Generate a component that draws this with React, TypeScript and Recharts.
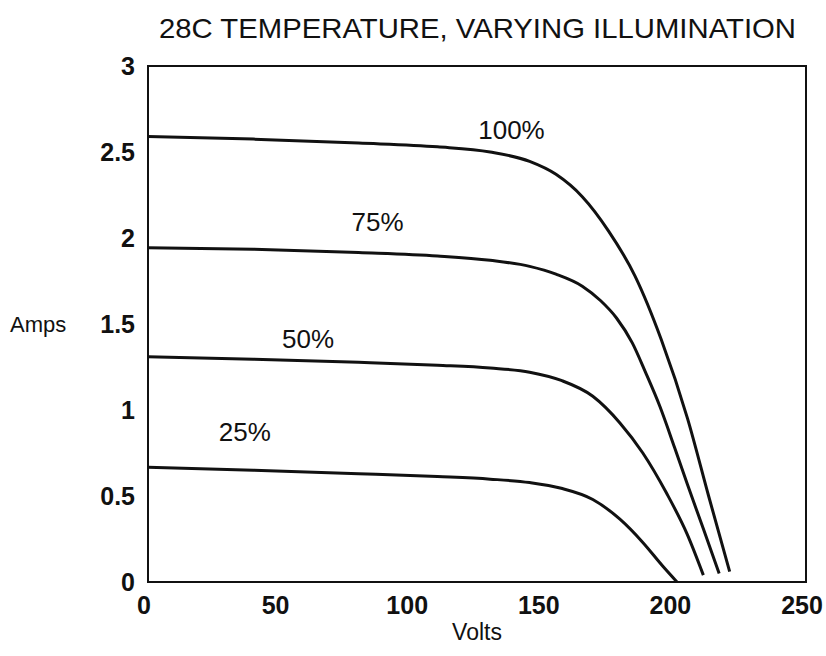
import { LineChart, Line, XAxis, YAxis, ReferenceArea, ReferenceDot } from 'recharts';

// volts / amps
const volts100 = [0, 40, 80, 110, 130, 145, 155, 165, 175, 185, 195, 205, 213, 221];
const amps100 = [2.59, 2.575, 2.552, 2.53, 2.5, 2.445, 2.37, 2.24, 2.04, 1.78, 1.41, 0.95, 0.5, 0.06];

const volts75 = [0, 40, 80, 110, 130, 145, 155, 165, 172, 178, 184, 189, 194.5, 200, 205, 211, 217];
const amps75 = [1.944, 1.935, 1.915, 1.895, 1.87, 1.835, 1.79, 1.72, 1.635, 1.535, 1.39, 1.22, 1.02, 0.785, 0.565, 0.31, 0.05];

const volts50 = [0, 40, 80, 110, 130, 145, 157, 169, 179.3, 188, 197, 204.8, 211];
const amps50 = [1.31, 1.295, 1.277, 1.26, 1.244, 1.22, 1.172, 1.08, 0.925, 0.75, 0.517, 0.28, 0.04];

const volts25 = [0, 40, 80, 110, 130, 145, 157, 169, 179.3, 188, 195.7, 201];
const amps25 = [0.667, 0.65, 0.63, 0.613, 0.598, 0.578, 0.545, 0.48, 0.365, 0.23, 0.09, 0];

const xTicks = [0, 50, 100, 150, 200, 250];
const yTicks = [0, 0.5, 1, 1.5, 2, 2.5, 3];

const curveLabels = [
    { text: '100%', v: 138.1, a: 2.631 },
    { text: '75%', v: 87.2, a: 2.095 },
    { text: '50%', v: 60.8, a: 1.416 },
    { text: '25%', v: 36.8, a: 0.872 },
];

const toSeries = (v: number[], a: number[]) => v.map((x, i) => ({ volts: x, amps: a[i] }));

const series = [
    { name: '100%', data: toSeries(volts100, amps100) },
    { name: '75%', data: toSeries(volts75, amps75) },
    { name: '50%', data: toSeries(volts50, amps50) },
    { name: '25%', data: toSeries(volts25, amps25) },
];

const font = '"Liberation Sans", Arial, Helvetica, sans-serif';

export default function App() {
    return (
        <div style={{ position: 'absolute', left: 0, top: 0, width: 826, height: 656, background: '#fff', fontFamily: font }}>
            <svg width={826} height={60} style={{ position: 'absolute', left: 0, top: 0 }}>
                <text x={159} y={38} fontSize={28} fill="#111" fontFamily={font} textLength={637} lengthAdjust="spacingAndGlyphs">
                    28C TEMPERATURE, VARYING ILLUMINATION
                </text>
            </svg>
            <LineChart width={826} height={656} margin={{ top: 66, right: 20, left: 0, bottom: 0 }}>
                <XAxis
                    type="number"
                    dataKey="volts"
                    domain={[0, 250]}
                    ticks={xTicks}
                    axisLine={false}
                    tickLine={false}
                    tickSize={6}
                    tickMargin={8}
                    height={74}
                    tick={{ fill: '#111', fontSize: 25, fontWeight: 'bold', fontFamily: font, dx: -4 }}
                    label={{ value: 'Volts', position: 'insideBottom', offset: 16, fill: '#111', fontSize: 23, fontFamily: font }}
                />
                <YAxis
                    type="number"
                    domain={[0, 3]}
                    ticks={yTicks}
                    axisLine={false}
                    tickLine={false}
                    tickSize={6}
                    tickMargin={7}
                    width={148}
                    tick={{ fill: '#111', fontSize: 25, fontWeight: 'bold', fontFamily: font }}
                    label={{ value: 'Amps', position: 'insideLeft', offset: 10, fill: '#111', fontSize: 22, fontFamily: font }}
                />
                <ReferenceArea x1={0} x2={250} y1={0} y2={3} fill="none" stroke="#111" strokeWidth={2} fillOpacity={0} />
                {series.map((s) => (
                    <Line
                        key={s.name}
                        data={s.data}
                        dataKey="amps"
                        type="monotone"
                        stroke="#111"
                        strokeWidth={3}
                        dot={false}
                        isAnimationActive={false}
                    />
                ))}
                {curveLabels.map((l) => (
                    <ReferenceDot
                        key={l.text}
                        x={l.v}
                        y={l.a}
                        r={0}
                        fill="none"
                        stroke="none"
                        label={{ value: l.text, position: 'center', fill: '#111', fontSize: 26, fontFamily: font }}
                    />
                ))}
            </LineChart>
        </div>
    );
}
